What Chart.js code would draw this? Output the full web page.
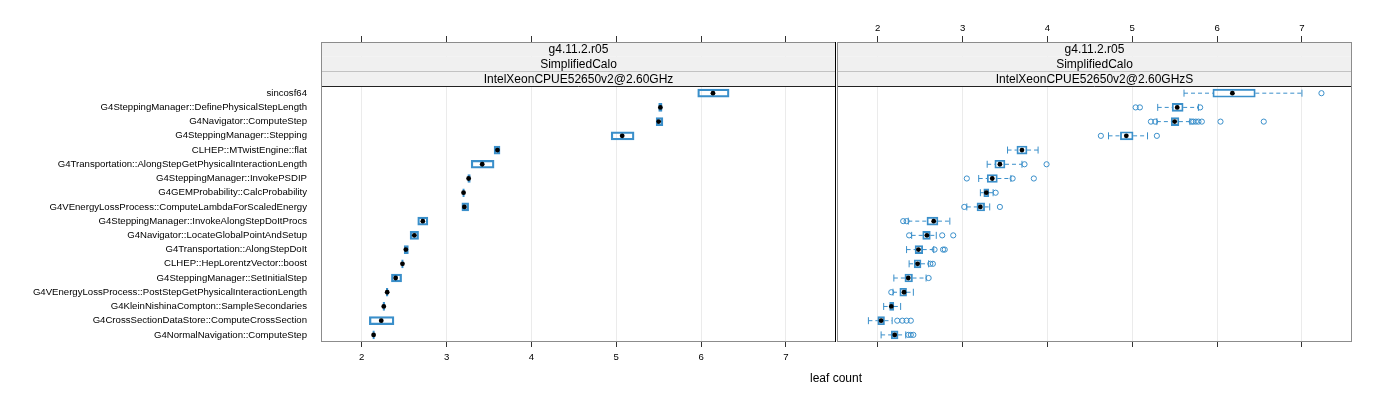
<!DOCTYPE html>
<html>
<head>
<meta charset="utf-8">
<script src="https://cdn.jsdelivr.net/npm/chart.js@4.4.1/dist/chart.umd.min.js"></script>
<style>
  body { margin: 0; background: #fff; width: 1400px; height: 400px; overflow: hidden; position: relative;
         font-family: "Liberation Sans", Arial, sans-serif; }
  #left { position: absolute; left: 0; top: 0; }
  #right { position: absolute; left: 832px; top: 0; }
  #xlab { position: absolute; left: 736px; width: 200px; top: 371px; text-align: center; font-size: 12px; color: #000; }
</style>
</head>
<body>
<canvas id="left" width="840" height="400"></canvas>
<canvas id="right" width="568" height="400"></canvas>
<div id="xlab">leaf count</div>
<script>
const categories = [
  "sincosf64",
  "G4SteppingManager::DefinePhysicalStepLength",
  "G4Navigator::ComputeStep",
  "G4SteppingManager::Stepping",
  "CLHEP::MTwistEngine::flat",
  "G4Transportation::AlongStepGetPhysicalInteractionLength",
  "G4SteppingManager::InvokePSDIP",
  "G4GEMProbability::CalcProbability",
  "G4VEnergyLossProcess::ComputeLambdaForScaledEnergy",
  "G4SteppingManager::InvokeAlongStepDoItProcs",
  "G4Navigator::LocateGlobalPointAndSetup",
  "G4Transportation::AlongStepDoIt",
  "CLHEP::HepLorentzVector::boost",
  "G4SteppingManager::SetInitialStep",
  "G4VEnergyLossProcess::PostStepGetPhysicalInteractionLength",
  "G4KleinNishinaCompton::SampleSecondaries",
  "G4CrossSectionDataStore::ComputeCrossSection",
  "G4NormalNavigation::ComputeStep"
];
const xTicks = [2, 3, 4, 5, 6, 7];
const leftStrips = ["g4.11.2.r05", "SimplifiedCalo", "IntelXeonCPUE52650v2@2.60GHz"];
const rightStrips = ["g4.11.2.r05", "SimplifiedCalo", "IntelXeonCPUE52650v2@2.60GHzS"];

// panel 1
const leftQ1  = [5.96, 5.50, 5.47, 4.94, 3.56, 3.29, 3.25, 3.19, 3.18, 2.66, 2.57, 2.50, 2.47, 2.35, 2.29, 2.25, 2.09, 2.13];
const leftMed = [6.14, 5.52, 5.50, 5.07, 3.60, 3.42, 3.26, 3.20, 3.21, 2.72, 2.62, 2.52, 2.48, 2.40, 2.30, 2.26, 2.23, 2.14];
const leftQ3  = [6.33, 5.54, 5.55, 5.21, 3.63, 3.56, 3.28, 3.21, 3.26, 2.78, 2.67, 2.55, 2.49, 2.47, 2.31, 2.27, 2.38, 2.15];

// panel 2
const rightLo  = [5.61, 5.30, 5.29, 4.72, 3.53, 3.29, 3.19, 3.21, 3.05, 2.36, 2.40, 2.34, 2.37, 2.19, 2.18, 2.07, 1.89, 2.04];
const rightQ1  = [5.95, 5.47, 5.46, 4.86, 3.64, 3.38, 3.29, 3.25, 3.17, 2.58, 2.53, 2.44, 2.43, 2.32, 2.26, 2.14, 2.00, 2.16];
const rightMed = [6.18, 5.53, 5.50, 4.93, 3.70, 3.44, 3.35, 3.28, 3.21, 2.66, 2.58, 2.48, 2.47, 2.36, 2.31, 2.16, 2.04, 2.20];
const rightQ3  = [6.45, 5.60, 5.55, 5.01, 3.76, 3.50, 3.41, 3.31, 3.26, 2.71, 2.62, 2.53, 2.51, 2.41, 2.34, 2.19, 2.08, 2.24];
const rightHi  = [7.00, 5.78, 5.68, 5.18, 3.89, 3.70, 3.57, 3.36, 3.32, 2.85, 2.69, 2.66, 2.60, 2.57, 2.42, 2.27, 2.17, 2.33];
const rightOut = [
  [7.23],
  [5.04, 5.09, 5.80],
  [5.22, 5.27, 5.70, 5.72, 5.75, 5.78, 5.82, 6.04, 6.55],
  [4.63, 5.29],
  [],
  [3.73, 3.99],
  [3.05, 3.59, 3.84],
  [3.39],
  [3.02, 3.44],
  [2.30, 2.34],
  [2.37, 2.76, 2.89],
  [2.67, 2.77, 2.79],
  [2.62, 2.65],
  [2.60],
  [2.16],
  [],
  [2.23, 2.29, 2.34, 2.39],
  [2.36, 2.39, 2.42]
];

const blue = "#3a8fca";
const FONT = '"Liberation Sans", Arial, sans-serif';
Chart.defaults.font.family = FONT;

function boxDatasets(q1, med, q3, lo, hi, out, boxWidth) {
  const sets = [];
  sets.push({
    type: "scatter", order: 0,
    data: med.map((v, i) => ({ x: v, y: i })),
    pointRadius: 2.4, pointBackgroundColor: "#000", pointBorderWidth: 0
  });
  if (out) {
    const pts = [];
    out.forEach((row, i) => row.forEach(v => pts.push({ x: v, y: i })));
    sets.push({
      type: "scatter", order: 1, data: pts,
      pointRadius: 2.6, pointBorderColor: blue, pointBackgroundColor: "rgba(0,0,0,0)", pointBorderWidth: 1
    });
  }
  if (lo) {
    const seg = [];
    lo.forEach((v, i) => {
      seg.push({ x: v, y: i }, { x: q1[i], y: i }, { x: null, y: i });
      seg.push({ x: q3[i], y: i }, { x: hi[i], y: i }, { x: null, y: i });
    });
    sets.push({
      type: "line", order: 2, indexAxis: "y", data: seg, spanGaps: false,
      borderColor: blue, borderWidth: 1, borderDash: [4, 3], pointRadius: 0, fill: false
    });
    const caps = [];
    lo.forEach((v, i) => caps.push({ x: v, y: i }, { x: hi[i], y: i }));
    sets.push({
      type: "scatter", order: 2, data: caps,
      pointStyle: "line", rotation: 90, pointRadius: 3.5, pointBorderColor: blue, pointBorderWidth: 1
    });
  }
  sets.push({
    type: "bar", order: 3,
    data: q1.map((v, i) => ({ x: [v, q3[i]], y: i })),
    backgroundColor: "rgba(0,0,0,0)", borderColor: blue, borderWidth: boxWidth,
    borderSkipped: false, barThickness: 8
  });
  return sets;
}

const stripPlugin = {
  id: "strips",
  beforeDatasetsDraw(chart, args, opts) {
    const { ctx, chartArea: a, scales: { y } } = chart;
    const bottom = y.getPixelForValue(-0.5);
    const h = (bottom - a.top) / opts.text.length;
    ctx.save();
    opts.text.forEach((t, i) => {
      const top = a.top + i * h;
      ctx.fillStyle = "#f0f0f0";
      ctx.fillRect(a.left, top, a.right - a.left, h);
      ctx.fillStyle = "#000";
      ctx.font = "12px " + FONT;
      ctx.textAlign = "center";
      ctx.textBaseline = "middle";
      ctx.fillText(t, (a.left + a.right) / 2, top + h / 2 + 0.5);
      ctx.strokeStyle = i === 1 ? "#777" : "#222";
      ctx.lineWidth = 1;
      ctx.beginPath();
      ctx.moveTo(a.left, Math.round(top + h) + 0.5);
      ctx.lineTo(a.right, Math.round(top + h) + 0.5);
      ctx.stroke();
    });
    ctx.restore();
  },
  afterDatasetsDraw(chart, args, opts) {
    const { ctx, chartArea: a } = chart;
    ctx.save();
    ctx.strokeStyle = "#8c8c8c";
    ctx.lineWidth = 1;
    ctx.strokeRect(Math.round(a.left) + 0.5, Math.round(a.top) + 0.5,
                   Math.round(a.right - a.left) - 1, Math.round(a.bottom - a.top) - 1);
    if (opts.divider) {
      ctx.strokeStyle = "#000";
      ctx.beginPath();
      const xe = Math.round(a.right) - 0.5;
      ctx.moveTo(xe, a.top);
      ctx.lineTo(xe, a.bottom);
      ctx.stroke();
    }
    ctx.restore();
  }
};

function xScale(pos, labels, height) {
  return {
    type: "linear", position: pos, min: 1.52, max: 7.59, display: true,
    afterBuildTicks: s => { s.ticks = xTicks.map(v => ({ value: v })); },
    afterFit: s => { s.height = height; },
    border: { display: false },
    grid: { color: "#ebebeb", drawOnChartArea: labels, tickColor: "#333", tickLength: pos === "top" ? 6 : 5 },
    ticks: { display: labels, color: "#000", font: { size: 9.6 }, padding: pos === "top" ? 2 : 5, maxRotation: 0 }
  };
}

function yScale(showLabels) {
  return {
    type: "linear", reverse: true, min: -3.6, max: 17.5, display: true, offset: false,
    afterBuildTicks: s => { s.ticks = categories.map((c, i) => ({ value: i })); },
    afterFit: s => { s.width = showLabels ? 321 : 0; },
    grid: { display: false, offset: false },
    border: { display: false },
    ticks: { display: showLabels, color: "#000", font: { size: 9.6 }, padding: 6, autoSkip: false,
             callback: v => categories[v] }
  };
}

const common = {
  responsive: false, animation: false, indexAxis: "y",
  plugins: { legend: { display: false }, tooltip: { enabled: false } }
};

new Chart(document.getElementById("left"), {
  type: "bar",
  data: { datasets: boxDatasets(leftQ1, leftMed, leftQ3, null, null, null, 1.6) },
  options: Object.assign({}, common, {
    layout: { padding: { left: 0, right: 4, top: 0, bottom: 0 } },
    plugins: Object.assign({}, common.plugins, { strips: { text: leftStrips, divider: true } }),
    scales: {
      x: xScale("bottom", true, 58),
      x2: xScale("top", false, 42),
      y: yScale(true)
    }
  }),
  plugins: [stripPlugin]
});

new Chart(document.getElementById("right"), {
  type: "bar",
  data: { datasets: boxDatasets(rightQ1, rightMed, rightQ3, rightLo, rightHi, rightOut, 1.2) },
  options: Object.assign({}, common, {
    layout: { padding: { left: 4, right: 48, top: 0, bottom: 0 } },
    plugins: Object.assign({}, common.plugins, { strips: { text: rightStrips, divider: false } }),
    scales: {
      x: xScale("top", true, 42),
      x2: xScale("bottom", false, 58),
      y: yScale(false)
    }
  }),
  plugins: [stripPlugin]
});
</script>
</body>
</html>
